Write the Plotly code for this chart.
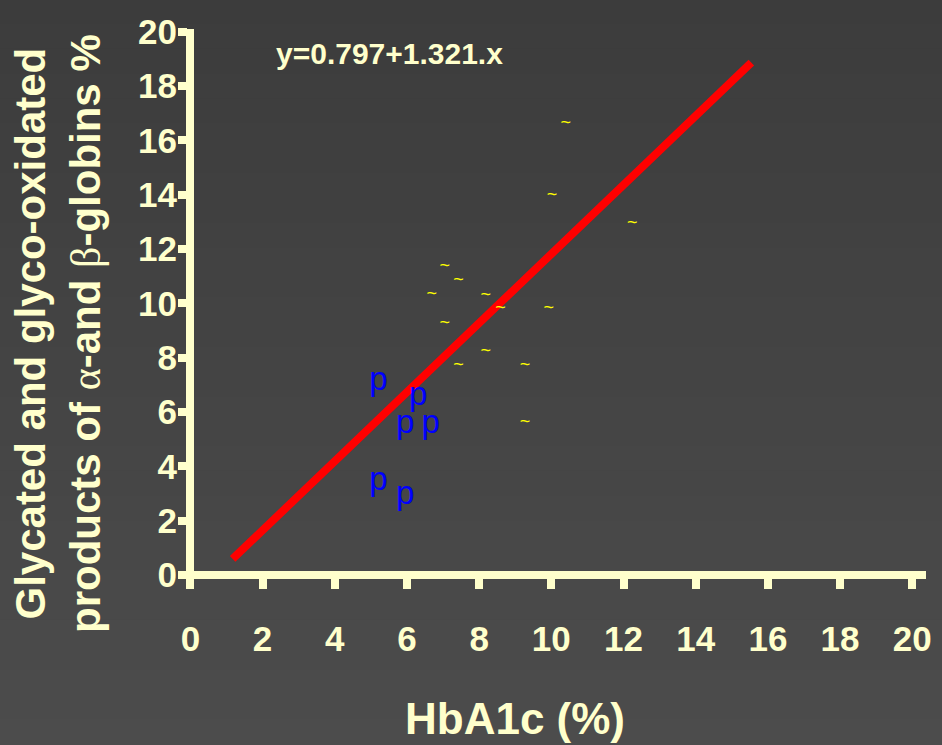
import plotly.graph_objects as go

# ---- data ----
group_p_x = [5.21, 6.31, 5.95, 6.66, 5.21, 5.95]
group_p_y = [7.11, 6.56, 5.52, 5.52, 3.43, 2.91]

group_t_x = [7.05, 7.43, 6.69, 8.18, 8.59, 7.05, 8.18, 7.43, 9.27, 9.27, 10.40, 10.02, 12.24, 9.93]
group_t_y = [11.34, 10.83, 10.31, 10.28, 9.80, 9.24, 8.21, 7.70, 7.70, 5.60, 16.61, 13.96, 12.93, 9.80]

fit_x = [1.17, 15.54]
fit_y = [0.59, 18.86]

tick_vals = [0, 2, 4, 6, 8, 10, 12, 14, 16, 18, 20]
tick_text = [str(v) for v in tick_vals]

equation = "y=0.797+1.321.x"
x_title = "HbA1c (%)"
y_title_1 = "Glycated and glyco-oxidated"
y_title_2 = "products of α-and β-globins %"

CREAM = "#FFFFCC"
FONT = "Liberation Sans"
W, H = 942, 745
ML, MR, MT, MB = 178, 10, 29, 156
PW, PH = W - ML - MR, H - MT - MB

fig = go.Figure()
fig.add_trace(go.Scatter(x=fit_x, y=fit_y, mode="lines",
                         line=dict(color="#ff0000", width=8), hoverinfo="skip"))
fig.add_trace(go.Scatter(x=group_t_x, y=group_t_y, mode="text", text=["~"] * len(group_t_x),
                         textfont=dict(family=FONT, size=18, color="#ffff00")))
fig.add_trace(go.Scatter(x=group_p_x, y=group_p_y, mode="text", text=["p"] * len(group_p_x),
                         textfont=dict(family=FONT, size=33, color="#0000ff")))

# background vertical gradient
n = 30
top_c, bot_c = (0x3c, 0x3c, 0x3c), (0x4c, 0x4c, 0x4c)
y_top = 1 + MT / PH
y_bot = -MB / PH
for i in range(n):
    t = i / (n - 1)
    c = tuple(round(top_c[k] + (bot_c[k] - top_c[k]) * t) for k in range(3))
    y0 = y_top - (y_top - y_bot) * i / n
    y1 = y_top - (y_top - y_bot) * (i + 1) / n
    fig.add_shape(type="rect", xref="paper", yref="paper",
                  x0=-ML / PW - 0.01, x1=1 + MR / PW + 0.01, y0=y1 - 0.002, y1=y0 + 0.002,
                  fillcolor="rgb(%d,%d,%d)" % c, line=dict(width=0), layer="below")

axis_common = dict(showgrid=False, showline=False, zeroline=True, zerolinecolor=CREAM,
                   zerolinewidth=8, ticks="inside", tickcolor=CREAM, tickwidth=8,
                   tickvals=tick_vals, ticktext=tick_text,
                   tickfont=dict(family=FONT, size=35, color=CREAM, weight="bold"))

SERIF = "<span style='font-family:Liberation Serif;font-weight:normal'>%s</span>"

fig.update_layout(
    width=W, height=H,
    margin=dict(l=ML, r=MR, t=MT, b=MB),
    paper_bgcolor="#454545", plot_bgcolor="rgba(0,0,0,0)",
    showlegend=False,
    xaxis=dict(range=[-0.343, 20.38], ticklen=10, ticklabelstandoff=26, **axis_common),
    yaxis=dict(range=[-0.516, 20.1], ticklen=9, ticklabelstandoff=0, **axis_common),
    annotations=[
        dict(text=equation, xref="paper", yref="paper", x=(391 - ML) / PW, y=1 - (54 - MT) / PH,
             xanchor="center", yanchor="middle", showarrow=False,
             font=dict(family=FONT, size=30, color=CREAM, weight="bold")),
        dict(text=x_title, xref="paper", yref="paper", x=(518 - ML) / PW, y=1 - (718 - MT) / PH,
             xanchor="center", yanchor="middle", showarrow=False,
             font=dict(family=FONT, size=44, color=CREAM, weight="bold")),
        dict(text=y_title_1 + "<br>" + y_title_2.replace("α", SERIF % "α").replace("β", SERIF % "β"),
             xref="paper", yref="paper", x=(57 - ML) / PW, y=1 - (333 - MT) / PH,
             xanchor="center", yanchor="middle", showarrow=False, textangle=-90,
             font=dict(family=FONT, size=42, color=CREAM, weight="bold")),
    ],
)

fig.write_html("out.html")
